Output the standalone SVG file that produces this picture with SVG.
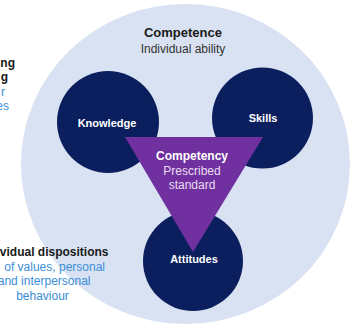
<svg xmlns="http://www.w3.org/2000/svg" width="359" height="331" viewBox="0 0 359 331">
  <style>
    text { font-family: "Liberation Sans", Arial, sans-serif; }
    .head { font-size: 12px; font-weight: bold; fill: #1a1a1a; }
    .sub { font-size: 12px; fill: #333333; }
    .note { font-size: 12px; fill: #3a8ed8; }
    .core { fill: #0b1f5e; }
    .core-label { font-size: 11px; font-weight: bold; fill: #ffffff; text-anchor: middle; }
  </style>

  <!-- outer field: competence -->
  <g id="competence">
    <ellipse cx="185.5" cy="164" rx="164.5" ry="160" fill="#d9e2f2"/>
    <text class="head" x="183" y="37" text-anchor="middle" style="font-size:13px">Competence</text>
    <text class="sub" x="183" y="53" text-anchor="middle">Individual ability</text>
  </g>

  <!-- three components -->
  <g id="knowledge">
    <circle class="core" cx="108" cy="122" r="51"/>
    <text class="core-label" x="107" y="127">Knowledge</text>
  </g>
  <g id="skills">
    <circle class="core" cx="262.5" cy="118" r="50.5"/>
    <text class="core-label" x="263" y="122">Skills</text>
  </g>
  <g id="attitudes">
    <circle class="core" cx="193" cy="261" r="50"/>
    <text class="core-label" x="194" y="263">Attitudes</text>
  </g>

  <!-- central triangle: competency -->
  <g id="competency">
    <polygon points="125,137 263,137 193,252" fill="#70309f"/>
    <text x="192" y="160" text-anchor="middle" style="font-size:12px;font-weight:bold;fill:#ffffff">Competency</text>
    <text x="192" y="175" text-anchor="middle" style="font-size:12px;fill:#e9def2">Prescribed</text>
    <text x="192" y="189" text-anchor="middle" style="font-size:12px;fill:#e9def2">standard</text>
  </g>

  <!-- side annotations -->
  <g id="note-top">
    <text class="head" x="15" y="67" text-anchor="end">ng</text>
    <text class="head" x="8" y="81" text-anchor="end">g</text>
    <text class="note" x="5" y="96" text-anchor="end">r</text>
    <text class="note" x="9" y="110" text-anchor="end">es</text>
  </g>
  <g id="note-bottom">
    <text class="head" x="108.5" y="256" text-anchor="end">vidual dispositions</text>
    <text class="note" x="105" y="270.5" text-anchor="end">of values, personal</text>
    <text class="note" x="90.5" y="285" text-anchor="end">and interpersonal</text>
    <text class="note" x="42.5" y="299.5" text-anchor="middle">behaviour</text>
  </g>

  <g id="connectors"/>
</svg>
